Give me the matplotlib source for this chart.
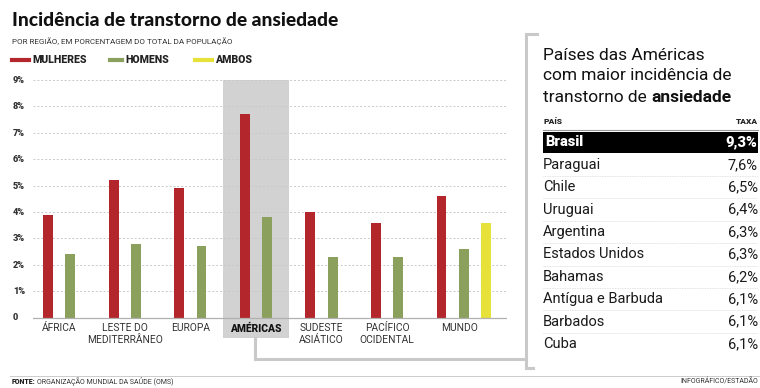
import matplotlib.pyplot as plt
from matplotlib.patches import Rectangle
from matplotlib.lines import Line2D

# data
regions = ["ÁFRICA", "LESTE DO\nMEDITERRÂNEO", "EUROPA", "AMÉRICAS",
           "SUDESTE\nASIÁTICO", "PACÍFICO\nOCIDENTAL", "MUNDO"]
mulheres = [3.9, 5.2, 4.9, 7.7, 4.0, 3.6, 4.6]
homens = [2.4, 2.8, 2.7, 3.8, 2.3, 2.3, 2.6]
ambos_mundo = 3.6
ytick_vals = [0, 1, 2, 3, 4, 5, 6, 7, 8, 9]
ytick_labels = ["0", "1%", "2%", "3%", "4%", "5%", "6%", "7%", "8%", "9%"]

paises = ["Brasil", "Paraguai", "Chile", "Uruguai", "Argentina", "Estados Unidos",
          "Bahamas", "Antígua e Barbuda", "Barbados", "Cuba"]
taxas = ["9,3%", "7,6%", "6,5%", "6,4%", "6,3%", "6,3%", "6,2%", "6,1%", "6,1%", "6,1%"]

RED = "#b3262c"
GREEN = "#8ca05e"
YELLOW = "#e6e23a"
BAND = "#d2d2d2"
LINE = "#c9c9c9"

W, H = 760, 388
fig = plt.figure(figsize=(W / 100, H / 100), dpi=100)
plt.rcParams['font.family'] = ['Roboto', 'DejaVu Sans']


def fx(x):
    return x / W


def fy(y):
    return 1 - y / H


# chart axes: x pixels 33..507, y pixels 80 (9%) .. 338 (-0.77)
ax = fig.add_axes([fx(33), fy(338), (507 - 33) / W, (338 - 80) / H])
ax.set_xlim(-0.40, 6.83)
ax.set_ylim(-0.77, 9)
ax.axis("off")

# highlight band behind Américas
ax.add_patch(Rectangle((2.5, -0.77), 1.0, 9.77, color=BAND, zorder=0, lw=0))

# grid lines
for v in ytick_vals[1:]:
    ax.axhline(v, color="#c8c8c8", lw=0.7, ls=(0, (2, 2)), zorder=1)
ax.axhline(0, color="#b0b0b0", lw=0.9, zorder=3)

off = 0.17
bw = 0.15
for i in range(len(regions)):
    ax.bar(i - off, mulheres[i], bw, color=RED, zorder=2)
    ax.bar(i + off, homens[i], bw, color=GREEN, zorder=2)
ax.bar(6 + 3 * off, ambos_mundo, bw, color=YELLOW, zorder=2)

for i, r in enumerate(regions):
    xl = i + 0.1 if i == 6 else i
    ax.text(xl, -0.22, r, ha="center", va="top", fontsize=7.4,
            fontweight="heavy" if r == "AMÉRICAS" else "normal",
            color="#111111" if r == "AMÉRICAS" else "#333333", linespacing=1.2)

for v, lab in zip(ytick_vals, ytick_labels):
    fig.text(fx(13), fy(318 - v * 26.4), lab, ha="left", va="center",
             fontsize=6.6, fontweight="black", color="#333333")

# title and subtitle
fig.text(fx(12), fy(20), "Incidência de transtorno de ansiedade", ha="left", va="center",
         fontsize=13.8, fontweight="black", color="#111111", family=["Lato", "DejaVu Sans"])
fig.text(fx(12), fy(41), "POR REGIÃO, EM PORCENTAGEM DO TOTAL DA POPULAÇÃO", ha="left",
         va="center", fontsize=5.8, color="#333333")

# legend
leg = [("MULHERES", RED, 12, 32), ("HOMENS", GREEN, 110, 125), ("AMBOS", YELLOW, 195, 215)]
for name, col, x0, xt in leg:
    fig.add_artist(Line2D([fx(x0), fx(xt - 3)], [fy(60), fy(60)], color=col, lw=3))
    fig.text(fx(xt), fy(60), name, ha="left", va="center", fontsize=7.6,
             fontweight="black", color="#222222")

# connector lines
fig.add_artist(Line2D([fx(255), fx(255), fx(526)], [fy(338), fy(359), fy(359)],
                      color=LINE, lw=2.2, solid_joinstyle="miter"))
fig.add_artist(Line2D([fx(537), fx(526), fx(526), fx(533)],
                      [fy(34), fy(34), fy(368), fy(368)],
                      color=LINE, lw=2.2, solid_joinstyle="miter"))

# right panel title
fs_t = 12.5
fig.text(fx(543), fy(55), "Países das Américas", ha="left", va="center",
         fontsize=fs_t, color="#111111")
fig.text(fx(543), fy(76), "com maior incidência de", ha="left", va="center",
         fontsize=fs_t, color="#111111")
t = fig.text(fx(543), fy(97), "transtorno de ", ha="left", va="center",
             fontsize=fs_t, color="#111111")
fig.canvas.draw()
bb = t.get_window_extent()
fig.text(bb.x1 / W, fy(97), "ansiedade", ha="left", va="center",
         fontsize=fs_t, fontweight="bold", color="#111111")

# table
fig.text(fx(543), fy(122), "PAÍS", ha="left", va="center", fontsize=6,
         fontweight="black", color="#222222")
fig.text(fx(758), fy(122), "TAXA", ha="right", va="center", fontsize=6,
         fontweight="black", color="#222222")
fig.add_artist(Line2D([fx(543), fx(758)], [fy(130), fy(130)], color="#999999", lw=0.8))
fig.add_artist(Rectangle((fx(543), fy(153)), (758 - 543) / W, 21 / H,
                         color="black", lw=0))

row_y0 = 142.5
pitch = 22.4
for k, (p, tx) in enumerate(zip(paises, taxas)):
    yy = row_y0 + k * pitch
    if k == 0:
        fig.text(fx(545), fy(yy), p, ha="left", va="center", fontsize=10.5,
                 fontweight="black", color="white")
        fig.text(fx(757), fy(yy), tx, ha="right", va="center", fontsize=10.5,
                 fontweight="black", color="white")
    else:
        fig.text(fx(543), fy(yy), p, ha="left", va="center", fontsize=10.5,
                 color="#1a1a1a")
        fig.text(fx(758), fy(yy), tx, ha="right", va="center", fontsize=10.5,
                 color="#1a1a1a")
        sep = yy + pitch / 2
        if k < len(paises) - 1:
            fig.add_artist(Line2D([fx(543), fx(758)], [fy(sep), fy(sep)],
                                  color="#d8d8d8", lw=0.6, ls=(0, (1, 1))))

# footer
fig.add_artist(Line2D([fx(10), fx(760)], [fy(376), fy(376)], color="#cccccc", lw=0.7))
f = fig.text(fx(12), fy(382), "FONTE:", ha="left", va="center", fontsize=5,
             fontweight="black", color="#222222")
fig.canvas.draw()
bb = f.get_window_extent()
fig.text(bb.x1 / W + 0.002, fy(382), "ORGANIZAÇÃO MUNDIAL DA SAÚDE (OMS)", ha="left",
         va="center", fontsize=5, color="#333333")
fig.text(fx(758), fy(382), "INFOGRÁFICO/ESTADÃO", ha="right", va="center",
         fontsize=5, color="#333333")

fig.savefig("out.png", dpi=100, facecolor="white")
